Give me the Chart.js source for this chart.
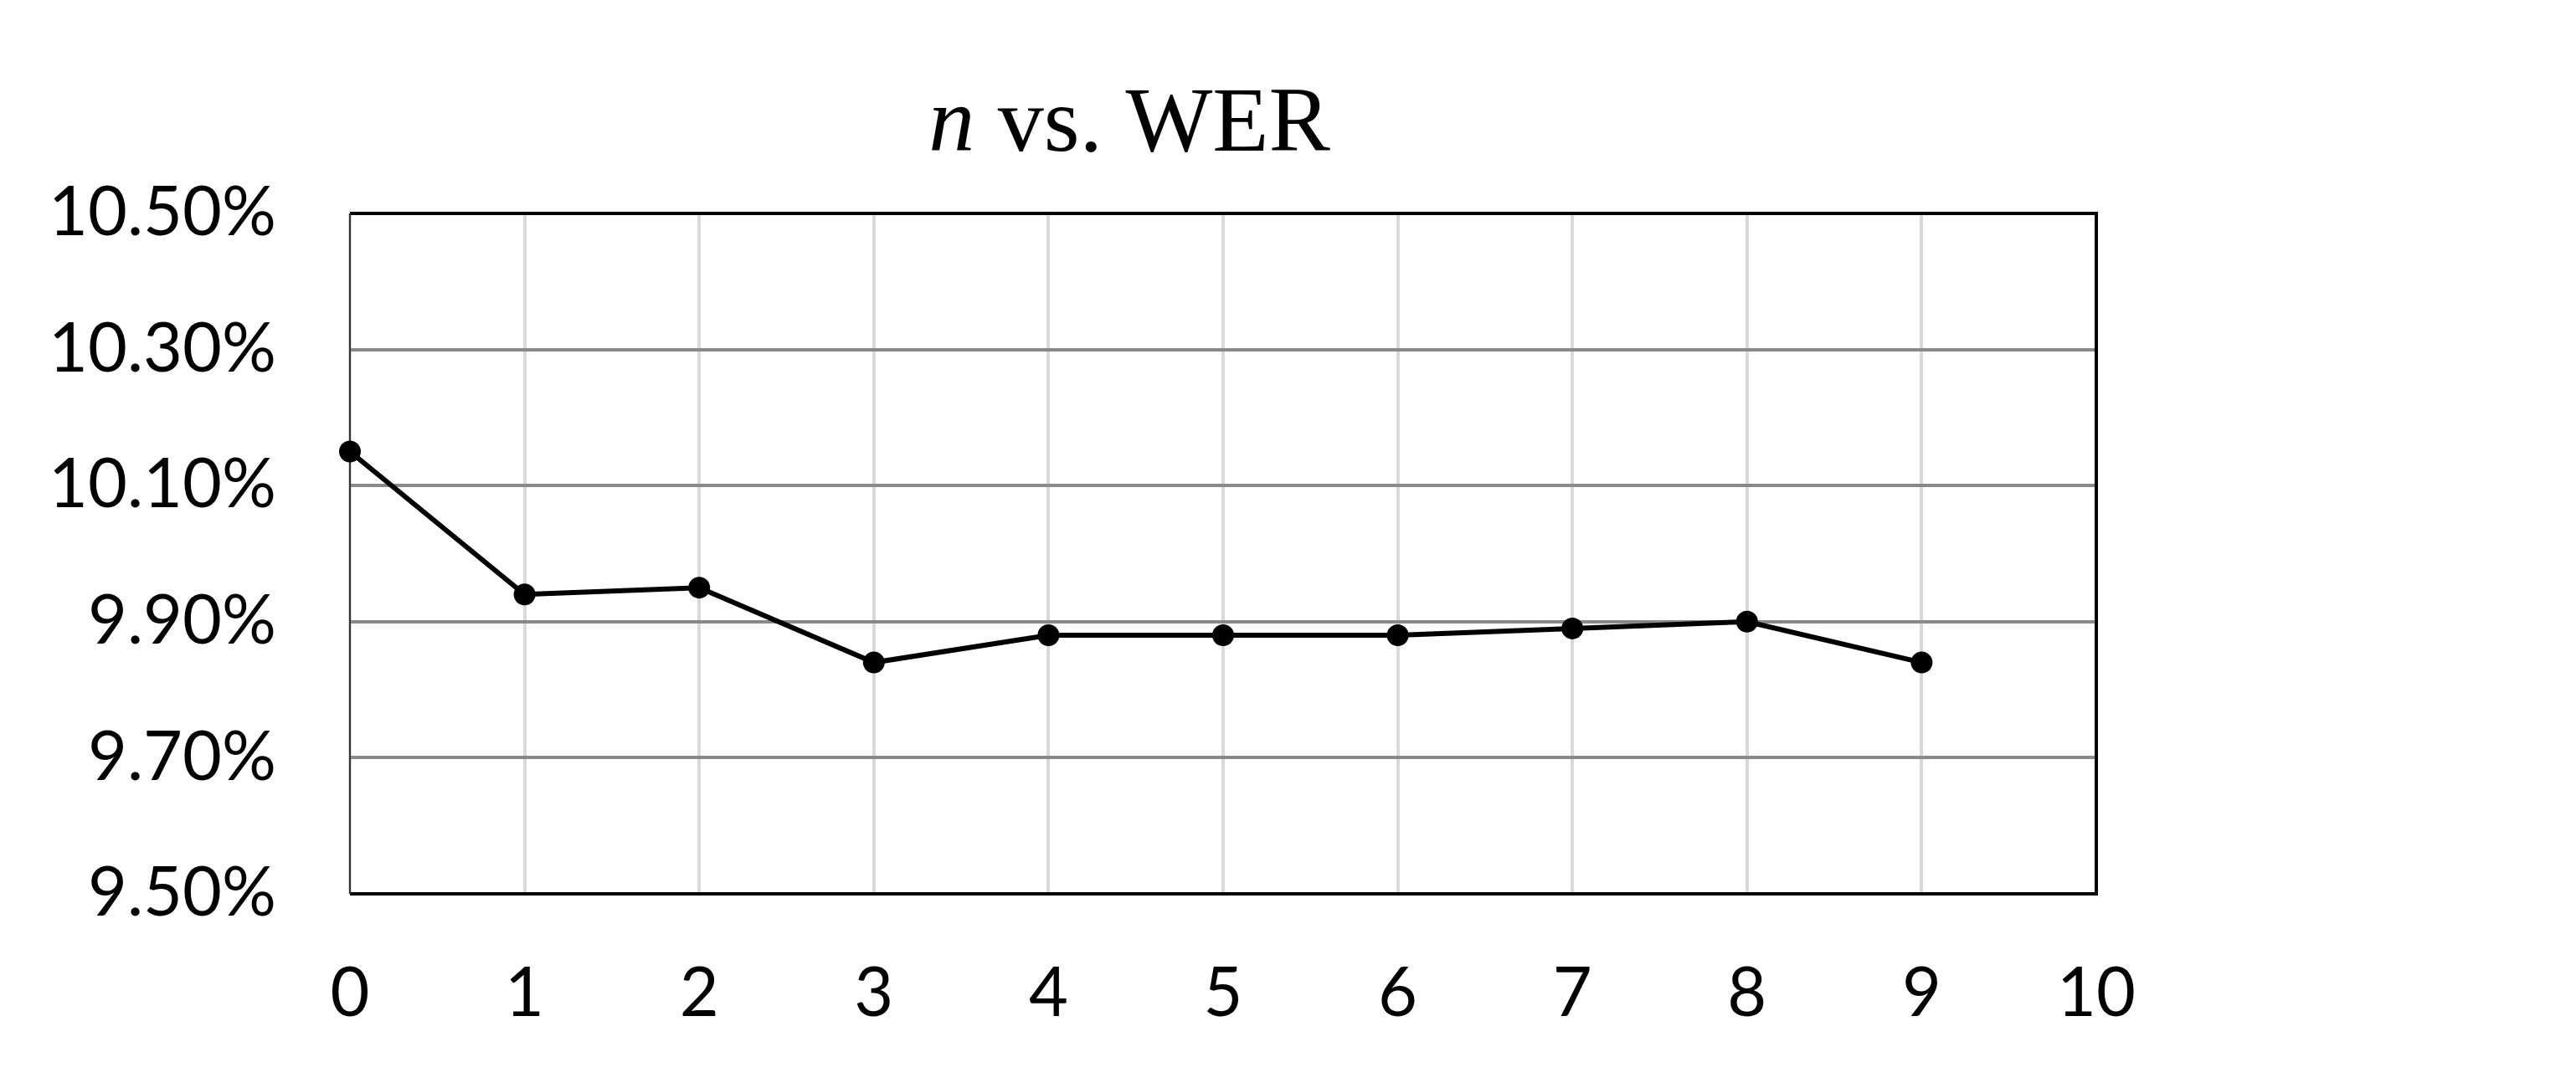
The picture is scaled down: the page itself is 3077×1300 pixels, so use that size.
<!DOCTYPE html>
<html>
<head>
<meta charset="utf-8">
<script src="https://cdn.jsdelivr.net/npm/chart.js@4.4.1/dist/chart.umd.min.js"></script>
<style>
  html, body { margin: 0; padding: 0; background: #ffffff; }
  canvas { display: block; }
</style>
</head>
<body>
<canvas id="c" width="3077" height="1300"></canvas>
<script>
const titleItalic = "n";
const titleRest = " vs. WER";
const nValues = [0, 1, 2, 3, 4, 5, 6, 7, 8, 9];
const werValues = [10.15, 9.94, 9.95, 9.84, 9.88, 9.88, 9.88, 9.89, 9.90, 9.84];
const xMin = 0, xMax = 10, xStep = 1;
const yMin = 9.5, yMax = 10.5, yStep = 0.2;

const points = nValues.map((n, i) => ({ x: n, y: werValues[i] }));

const titlePlugin = {
  id: 'mixedTitle',
  afterDraw(chart) {
    const ctx = chart.ctx;
    ctx.save();
    ctx.fillStyle = '#000';
    ctx.textBaseline = 'alphabetic';
    const fi = 'italic 110px "Liberation Serif", "Times New Roman", serif';
    const fn = '110px "Liberation Serif", "Times New Roman", serif';
    ctx.font = fi; const w1 = ctx.measureText(titleItalic).width;
    ctx.font = fn; const w2 = ctx.measureText(titleRest).width;
    const cx = 1349, by = 180;
    let x = cx - (w1 + w2) / 2;
    ctx.textAlign = 'left';
    ctx.font = fi; ctx.fillText(titleItalic, x, by);
    ctx.font = fn; ctx.fillText(titleRest, x + w1, by);
    ctx.restore();
  }
};

const borderPlugin = {
  id: 'frame',
  beforeDatasetsDraw(chart) {
    const a = chart.chartArea, ctx = chart.ctx;
    ctx.save();
    ctx.strokeStyle = '#000';
    ctx.lineWidth = 4;
    ctx.beginPath();
    ctx.moveTo(a.left, a.top); ctx.lineTo(a.right, a.top);
    ctx.lineTo(a.right, a.bottom); ctx.lineTo(a.left, a.bottom);
    ctx.stroke();
    ctx.strokeStyle = '#333';
    ctx.lineWidth = 2;
    ctx.beginPath();
    ctx.moveTo(a.left, a.top); ctx.lineTo(a.left, a.bottom);
    ctx.stroke();
    ctx.restore();
  }
};

new Chart(document.getElementById('c'), {
  type: 'scatter',
  data: {
    datasets: [{
      data: points,
      showLine: true,
      borderColor: '#000',
      backgroundColor: '#000',
      borderWidth: 6,
      pointRadius: 13,
      pointHoverRadius: 13,
      pointBackgroundColor: '#000',
      pointBorderWidth: 0,
      tension: 0,
      clip: false
    }]
  },
  options: {
    responsive: false,
    animation: false,
    devicePixelRatio: 1,
    layout: { padding: { left: 0, right: 573, top: 255, bottom: 0 } },
    plugins: { legend: { display: false }, tooltip: { enabled: false }, title: { display: false } },
    scales: {
      x: {
        type: 'linear',
        min: xMin, max: xMax,
        afterFit(s) { s.height = 232; },
        ticks: {
          stepSize: xStep,
          color: '#000',
          padding: 71,
          maxRotation: 0,
          font: { family: 'Lato, "Open Sans", sans-serif', size: 81 },
          callback: v => String(v)
        },
        grid: { color: '#d9d9d9', lineWidth: 4, drawTicks: false },
        border: { display: false }
      },
      y: {
        type: 'linear',
        min: yMin, max: yMax,
        afterFit(s) { s.width = 418; },
        ticks: {
          stepSize: yStep,
          color: '#000',
          padding: 88,
          font: { family: 'Lato, "Open Sans", sans-serif', size: 81 },
          callback: v => v.toFixed(2) + '%'
        },
        grid: { color: '#898989', lineWidth: 4, drawTicks: false },
        border: { display: false }
      }
    }
  },
  plugins: [borderPlugin, titlePlugin]
});
</script>
</body>
</html>
